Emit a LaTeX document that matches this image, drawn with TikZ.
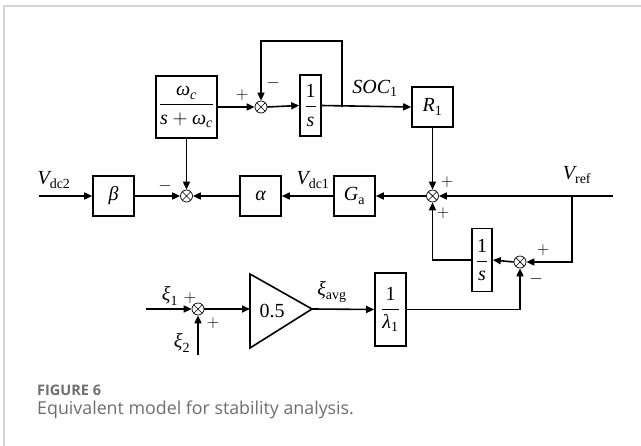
\documentclass[tikz,border=0pt]{standalone}
\usepackage{amsmath}
\usepackage{fontspec}
\setmainfont{Liberation Serif}
\usetikzlibrary{arrows.meta}
\newfontfamily\capfont{Open Sans}
\newcommand\vi[1]{\text{\itshape #1}}
\newcommand\vu[1]{\text{\upshape #1}}
\definecolor{capgray}{HTML}{6E6E6E}
\definecolor{framegray}{HTML}{D4D4D4}
\begin{document}
\begin{tikzpicture}[x=1pt,y=-1pt,
  blk/.style={draw,line width=1.6pt,inner sep=0pt,font=\fontsize{20}{23}\selectfont},
  sumj/.style={draw,circle,line width=0.7pt,minimum size=12pt,inner sep=0pt,
    path picture={\draw[line width=0.7pt] (path picture bounding box.south west)--(path picture bounding box.north east) (path picture bounding box.north west)--(path picture bounding box.south east);}},
  arr/.style={line width=1.6pt,-{Triangle[length=8pt,width=7pt]}},
  lbl/.style={inner sep=0pt,font=\fontsize{20}{23}\selectfont},
  sgn/.style={inner sep=0pt,font=\fontsize{17}{20}\selectfont}]
\useasboundingbox (0,0) rectangle (641,446);
\draw[framegray,line width=1.5pt] (4,446) -- (4,6) -- (641,6);
% blocks
\node[blk,minimum width=61pt,minimum height=62pt] (wc) at (186.5,107) {$\dfrac{\vi{ω}_{\vi{c}}}{\vi{s}+\vi{ω}_{\vi{c}}}$};
\node[sumj] (s1) at (261,107) {};
\node[blk,minimum width=21pt,minimum height=61pt] (i1) at (310.5,105.5) {$\dfrac{\vu{1}}{\vi{s}}$};
\node[blk,minimum width=41pt,minimum height=40pt] (r1) at (432.5,107) {$\vi{R}_{\vu{1}}$};
\node[sumj] (s2) at (432.5,196) {};
\node[blk,minimum width=41pt,minimum height=40pt] (ga) at (354.5,196) {$\vi{G}_{\vu{a}}$};
\node[blk,minimum width=41pt,minimum height=40pt] (al) at (260.5,196) {$\vi{α}$};
\node[sumj] (s4) at (186.5,196) {};
\node[blk,minimum width=41pt,minimum height=40pt] (be) at (113.5,196) {$\vi{β}$};
\node[blk,minimum width=20pt,minimum height=63pt] (i2) at (482,260) {$\dfrac{\vu{1}}{\vi{s}}$};
\node[sumj] (s3) at (520,262) {};
\node[sumj] (s5) at (198,309) {};
\node[blk,minimum width=31pt,minimum height=73pt] (lm) at (390.5,309.5) {$\dfrac{\vu{1}}{\vi{λ}_{\vu{1}}}$};
% amplifier triangle
\coordinate (ampin) at (250,309);
\coordinate (ampout) at (312,309);
\draw[line width=1.6pt,line join=miter] (250,274) -- (312,309) -- (250,348) -- cycle;
\node[lbl] (half) at (272,311) {0.5};
% free ends
\coordinate (fb) at (342,107);
\coordinate (vref) at (613,196);
\coordinate (br) at (572,196);
\coordinate (vin) at (39,196);
\coordinate (x1in) at (146,309);
\coordinate (x2in) at (198,355);
% connectors
\draw[arr] (wc.east) -- (s1.west);
\draw[arr] (s1.east) -- (i1.west);
\draw[arr] (i1.east) -- (r1.west);
\draw[arr] (fb) -- (342,41) -| (s1.north);
\draw[arr] (r1.south) -- (s2.north);
\draw[arr] (vref) -- (s2.east);
\draw[arr] (br) |- (s3.east);
\draw[arr] (s3.west) -- (i2.east);
\draw[arr] (i2.west) -| (s2.south);
\draw[arr] (s2.west) -- (ga.east);
\draw[arr] (ga.west) -- (al.east);
\draw[arr] (al.west) -- (s4.east);
\draw[arr] (wc.south) -- (s4.north);
\draw[arr] (vin) -- (be.west);
\draw[arr] (be.east) -- (s4.west);
\draw[arr] (x1in) -- (s5.west);
\draw[arr] (x2in) -- (s5.south);
\draw[arr] (s5.east) -- (ampin);
\draw[arr] (ampout) -- (lm.west);
\draw[arr] (lm.east) -| (s3.south);
% labels
\node[sgn] (p1) at (242,95) {$+$};
\node[sgn] (m1) at (273,83) {$-$};
\node[lbl] (soc) at (375,88) {$\vi{SOC}_{\vu{1}}$};
\node[lbl] (vr) at (577,175) {$\vi{V}_{\vu{ref}}$};
\node[sgn] (p2a) at (447,182) {$+$};
\node[sgn] (p2b) at (443,213) {$+$};
\node[sgn] (p3a) at (543,250) {$+$};
\node[sgn] (m3) at (536,279) {$-$};
\node[lbl] (vd1) at (313,180) {$\vi{V}_{\vu{dc1}}$};
\node[sgn] (m4) at (165,186) {$-$};
\node[lbl] (vd2) at (54,180) {$\vi{V}_{\vu{dc2}}$};
\node[lbl] (x1) at (170,296) {$\vi{ξ}_{\vu{1}}$};
\node[sgn] (p5a) at (190,298) {$+$};
\node[lbl] (x2) at (182,343) {$\vi{ξ}_{\vu{2}}$};
\node[sgn] (p5b) at (213,323) {$+$};
\node[lbl] (xa) at (332,292) {$\vi{ξ}_{\vu{avg}}$};
% caption
\node[anchor=base west,inner sep=0pt,text=capgray,font=\capfont\bfseries\fontsize{14.5}{17}\selectfont] (fig) at (37,396) {FIGURE 6};
\node[anchor=base west,inner sep=0pt,text=capgray,font=\capfont\fontsize{17.8}{20}\selectfont] (cap) at (37,415) {Equivalent model for stability analysis.};
\end{tikzpicture}
\end{document}
